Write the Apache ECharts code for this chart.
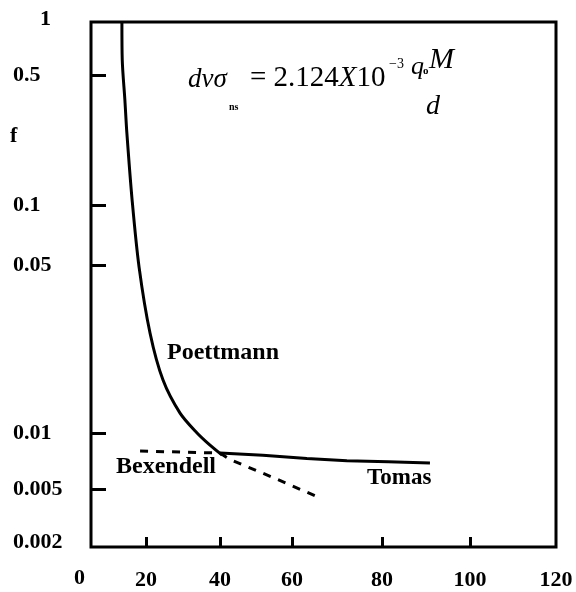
<!DOCTYPE html>
<html>
<head>
<meta charset="utf-8">
<script src="https://cdn.jsdelivr.net/npm/echarts@6/dist/echarts.min.js"></script>
<style>
html,body{margin:0;padding:0;background:#fff;}
#c{width:576px;height:592px;}
</style>
</head>
<body>
<div id="c"></div>
<script>
// ---- data ----
const xTicks = [0, 20, 40, 60, 80, 100, 120];
const xTickLabels = ['0', '20', '40', '60', '80', '100', '120'];
const yTicks = [1, 0.5, 0.1, 0.05, 0.01, 0.005, 0.002];
const yTickLabels = ['1', '0.5', '0.1', '0.05', '0.01', '0.005', '0.002'];

const poettmannX = [12.7, 12.8, 13.6, 14.2, 15.8, 17.9, 21.1, 24.6, 29.2, 33.8, 37.3, 40.6];
const poettmannF = [1, 0.61, 0.367, 0.244, 0.106, 0.049, 0.026, 0.0166, 0.0121, 0.0100, 0.0086, 0.0076];

const bexendellX = [18.2, 40.0, 42.8, 55.3, 65.8];
const bexendellF = [0.0080, 0.0078, 0.0072, 0.0057, 0.0044];

const tomasX = [40.0, 51.9, 63.3, 72.2, 81.4, 90.9];
const tomasF = [0.0078, 0.0076, 0.0073, 0.0071, 0.0070, 0.0069];

// ---- the reference's (hand-drawn, non-uniform) axis scales ----
// display-unit position of each tick along the axis
const xScaleStops = [-11, 55, 129, 201, 291, 379, 465];
const yScaleStops = [0, 53, 183, 243, 411, 467, 525];

function interp(v, from, to) {
  for (let i = 0; i < from.length - 1; i++) {
    const a = from[i], b = from[i + 1];
    const lo = Math.min(a, b), hi = Math.max(a, b);
    if ((v >= lo && v <= hi) || i === from.length - 2) {
      return to[i] + (v - a) / (b - a) * (to[i + 1] - to[i]);
    }
  }
}
const yLog = yTicks.map(Math.log10);
const warpX = x => interp(x, xTicks, xScaleStops);
const warpY = f => interp(Math.log10(f), yLog, yScaleStops);
const pts = (xs, fs) => xs.map((x, i) => [warpX(x), warpY(fs[i])]);

const FONT = "'Liberation Serif', 'DejaVu Serif', serif";
const chart = echarts.init(document.getElementById('c'), null, {renderer: 'canvas'});

chart.setOption({
  backgroundColor: '#fff',
  animation: false,
  grid: {left: 91, top: 22, width: 465, height: 525, show: true, borderColor: '#000', borderWidth: 3},
  xAxis: {
    type: 'value', min: 0, max: 465, position: 'bottom',
    splitLine: {show: false},
    axisLine: {show: false, onZero: false},
    axisTick: {show: true, inside: true, length: 10, lineStyle: {color: '#000', width: 3},
      customValues: xScaleStops.slice(1, 6)},
    axisLabel: {
      customValues: xScaleStops.slice(1),
      margin: 22,
      color: '#000', fontFamily: FONT, fontWeight: 'bold', fontSize: 22,
      formatter: v => xTickLabels[xScaleStops.indexOf(v)]
    }
  },
  yAxis: {
    type: 'value', min: 0, max: 525, inverse: true, position: 'left',
    splitLine: {show: false},
    axisLine: {show: false, onZero: false},
    axisTick: {show: true, inside: true, length: 15, lineStyle: {color: '#000', width: 3},
      customValues: yScaleStops.slice(1, 6)},
    axisLabel: {
      customValues: yScaleStops,
      showMinLabel: true, showMaxLabel: true,
      margin: 78, align: 'left',
      color: '#000', fontFamily: FONT, fontWeight: 'bold', fontSize: 22,
      formatter: v => {
        const i = yScaleStops.indexOf(v);
        if (i === 0) return '{one|' + yTickLabels[i] + '}';
        if (i === yTickLabels.length - 1) return '{lo|' + yTickLabels[i] + '}';
        return yTickLabels[i];
      },
      rich: {
        one: {padding: [0, 0, 6, 27], fontFamily: FONT, fontWeight: 'bold', fontSize: 22, color: '#000'},
        lo: {padding: [0, 0, 10, 0], fontFamily: FONT, fontWeight: 'bold', fontSize: 22, color: '#000'}
      }
    }
  },
  series: [
    {name: 'Poettmann', type: 'line', data: pts(poettmannX, poettmannF), smooth: 0.3,
      showSymbol: false, lineStyle: {color: '#000', width: 3}},
    {name: 'Bexendell', type: 'line', data: pts(bexendellX, bexendellF),
      showSymbol: false, lineStyle: {color: '#000', width: 3, type: [8, 8]}},
    {name: 'Tomas', type: 'line', data: pts(tomasX, tomasF),
      showSymbol: false, lineStyle: {color: '#000', width: 3}}
  ],
  graphic: [
    {type: 'text', left: 74, top: 567, style: {text: '0', font: "bold 22px " + FONT, fill: '#000'}},
    {type: 'text', left: 10, top: 125, style: {text: 'f', font: "bold 22px " + FONT, fill: '#000'}},
    {type: 'text', left: 167, top: 341, style: {text: 'Poettmann', font: "bold 24px " + FONT, fill: '#000'}},
    {type: 'text', left: 116, top: 455, style: {text: 'Bexendell', font: "bold 24px " + FONT, fill: '#000'}},
    {type: 'text', left: 367, top: 467, style: {text: 'Tomas', font: "bold 23px " + FONT, fill: '#000'}},
    // equation
    {type: 'text', left: 188, top: 66, style: {text: 'dvσ', font: "italic 27px " + FONT, fill: '#000'}},
    {type: 'text', left: 229, top: 102, style: {text: 'ns', font: "bold 10px " + FONT, fill: '#000'}},
    {type: 'text', left: 250, top: 64, style: {
      text: '{r|= 2.124}{i|X}{r|10}',
      rich: {r: {font: "29px " + FONT, fill: '#000'}, i: {font: "italic 29px " + FONT, fill: '#000'}}
    }},
    {type: 'text', left: 389, top: 57, style: {text: '−3', font: "14px " + FONT, fill: '#000'}},
    {type: 'text', left: 411, top: 54, style: {text: 'q', font: "italic 26px " + FONT, fill: '#000'}},
    {type: 'text', left: 423, top: 66, style: {text: 'o', font: "bold 11px " + FONT, fill: '#000'}},
    {type: 'text', left: 429, top: 45, style: {text: 'M', font: "italic 30px " + FONT, fill: '#000'}},
    {type: 'text', left: 426, top: 93, style: {text: 'd', font: "italic 28px " + FONT, fill: '#000'}}
  ]
});
</script>
</body>
</html>
